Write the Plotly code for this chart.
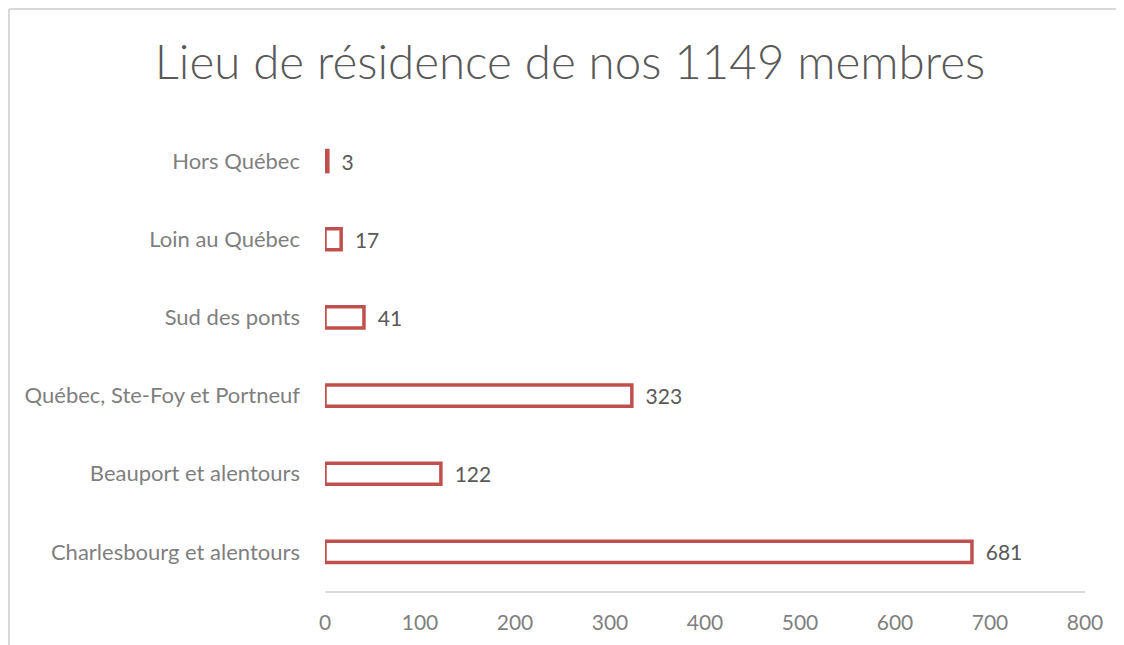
import plotly.graph_objects as go

categories = ["Charlesbourg et alentours", "Beauport et alentours", "Québec, Ste-Foy et Portneuf",
              "Sud des ponts", "Loin au Québec", "Hors Québec"]
values = [681, 122, 323, 41, 17, 3]
x_ticks = [0, 100, 200, 300, 400, 500, 600, 700, 800]

FONT = "Lato"
RED = "#C0504D"

W, H = 1116, 637  # page body has an 8px margin
fig = go.Figure(go.Bar(
    y=categories, x=values, orientation="h",
    marker=dict(color="white", line=dict(color=RED, width=3.5)),
    width=0.27,
    text=["\u00a0\u00a0" + str(v) for v in values], textposition="outside",
    constraintext="none",
    textfont=dict(family=FONT, size=21, color="#595959"),
    cliponaxis=False,
))

L, R, T, B = 317, 39, 114, 54
fig.update_layout(
    width=W, height=H,
    margin=dict(l=L, r=R, t=T, b=B, pad=0),
    paper_bgcolor="white", plot_bgcolor="white",
    title=dict(text="Lieu de résidence de nos 1149 membres", x=0.5036, xanchor="center",
               y=1 - 54 / H, yanchor="middle",
               font=dict(family=FONT, size=47.5, color="#595959", weight=300)),
    xaxis=dict(range=[0, 800], tickvals=x_ticks, showgrid=False, zeroline=False,
               showline=True, linecolor="#D9D9D9", linewidth=1.5,
               ticks="", ticklabelstandoff=12, automargin=False,
               tickfont=dict(family=FONT, size=21, color="#7F7F7F")),
    yaxis=dict(categoryorder="array", categoryarray=categories, showgrid=False, zeroline=False,
               showline=False, ticks="", ticklabelstandoff=24, automargin=False,
               tickfont=dict(family=FONT, size=22, color="#7F7F7F")),
    showlegend=False,
)

pw = W - L - R
ph = H - T - B
ytop = (H - B - 1) / ph
xleft = (1 - L) / pw
fig.add_shape(type="line", xref="paper", yref="paper",
              x0=xleft, x1=(W + 20 - L) / pw, y0=ytop, y1=ytop,
              line=dict(color="#D9D9D9", width=2))
fig.add_shape(type="line", xref="paper", yref="paper",
              x0=xleft, x1=xleft, y0=ytop, y1=(H - B - H - 20) / ph,
              line=dict(color="#D9D9D9", width=2))

fig.write_html("out.html")
